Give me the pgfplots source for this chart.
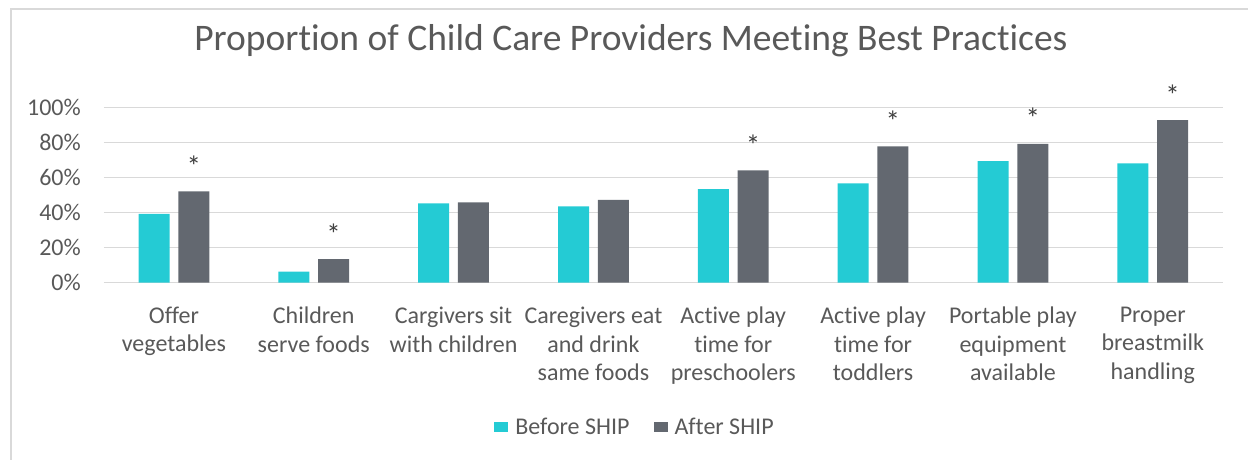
\documentclass[border=0pt]{standalone}
\usepackage{pgfplots}
\usepackage{pgfplotstable}
\pgfplotsset{compat=1.18}
\usepackage{fontspec}
\setmainfont{Carlito}[Ligatures=NoCommon]
\definecolor{teal1}{RGB}{36,203,212}
\definecolor{slate1}{RGB}{99,104,112}
\definecolor{txtgray}{RGB}{89,89,89}
\definecolor{gridgray}{RGB}{217,217,217}
\pgfplotstableread{
x before after star
0 39.3 52.2 *
1 6.3 13.5 *
2 45.4 45.9 {}
3 43.6 47.3 {}
4 53.5 64.2 *
5 56.7 77.9 *
6 69.5 79.3 *
7 68.2 92.9 *
}\datatable
\begin{document}
\begin{tikzpicture}
\path[use as bounding box] (0pt,0pt) rectangle (1248pt,-459pt);
\draw[gridgray, line width=1.5pt] (1252pt,-9pt) -- (11pt,-9pt) -- (11pt,-463pt);
\begin{axis}[
  at={(104pt,-282.7pt)}, anchor=south west,
  scale only axis, width=1118.7pt, height=175pt,
  ybar=8.7pt, bar width=31pt,
  xmin=-0.5, xmax=7.5, ymin=0, ymax=100,
  axis line style={draw=none},
  ymajorgrids, grid style={gridgray, line width=1.5pt},
  major tick length=0pt, tick style={draw=none},
  ytick={0,20,40,60,80,100},
  yticklabels={0\%,20\%,40\%,60\%,80\%,100\%},
  xtick=data,
  xticklabels={Offer\\vegetables, Children\\serve foods, Cargivers sit\\with children, Caregivers eat\\and drink\\same foods, Active play\\time for\\preschoolers, Active play\\time for\\toddlers, Portable play\\equipment\\available, Proper\\breastmilk\\handling},
  /pgf/number format/assume math mode=true,
  yticklabel style={font=\fontsize{24}{28}\selectfont, text=txtgray, anchor=east, inner sep=0pt, xshift=-23pt},
  xticklabel style={font=\fontsize{24}{28.6}\selectfont, text=txtgray, align=center, anchor=north, inner sep=0pt, yshift=-24pt},
  title={Proportion of Child Care Providers Meeting Best Practices},
  title style={font=\fontsize{37.5}{44}\selectfont, text=txtgray, at={(0.471,1.347)}, anchor=center, inner sep=0pt},
  legend style={at={(0.4747,-0.8246)}, anchor=center, draw=none, fill=none, font=\fontsize{24}{28}\selectfont, text=txtgray, legend columns=2,
    /tikz/every odd column/.append style={column sep=5pt},
    /tikz/every even column/.append style={column sep=22pt}, inner sep=0pt},
  legend cell align=left,
  legend image code/.code={\fill[#1] (0pt,-5.4pt) rectangle (14pt,5.4pt);},
]
\addplot[fill=teal1, draw=none] table[x=x, y=before] {\datatable};
\addlegendentry{Before SHIP}
\addplot[fill=slate1, draw=none, point meta=explicit symbolic, nodes near coords,
  every node near coord/.append style={anchor=base, yshift=15pt, font=\fontsize{29}{32}\selectfont, text=black!75, inner sep=0pt}]
  table[x=x, y=after, meta=star] {\datatable};
\addlegendentry{After SHIP}
\end{axis}
\end{tikzpicture}
\end{document}
